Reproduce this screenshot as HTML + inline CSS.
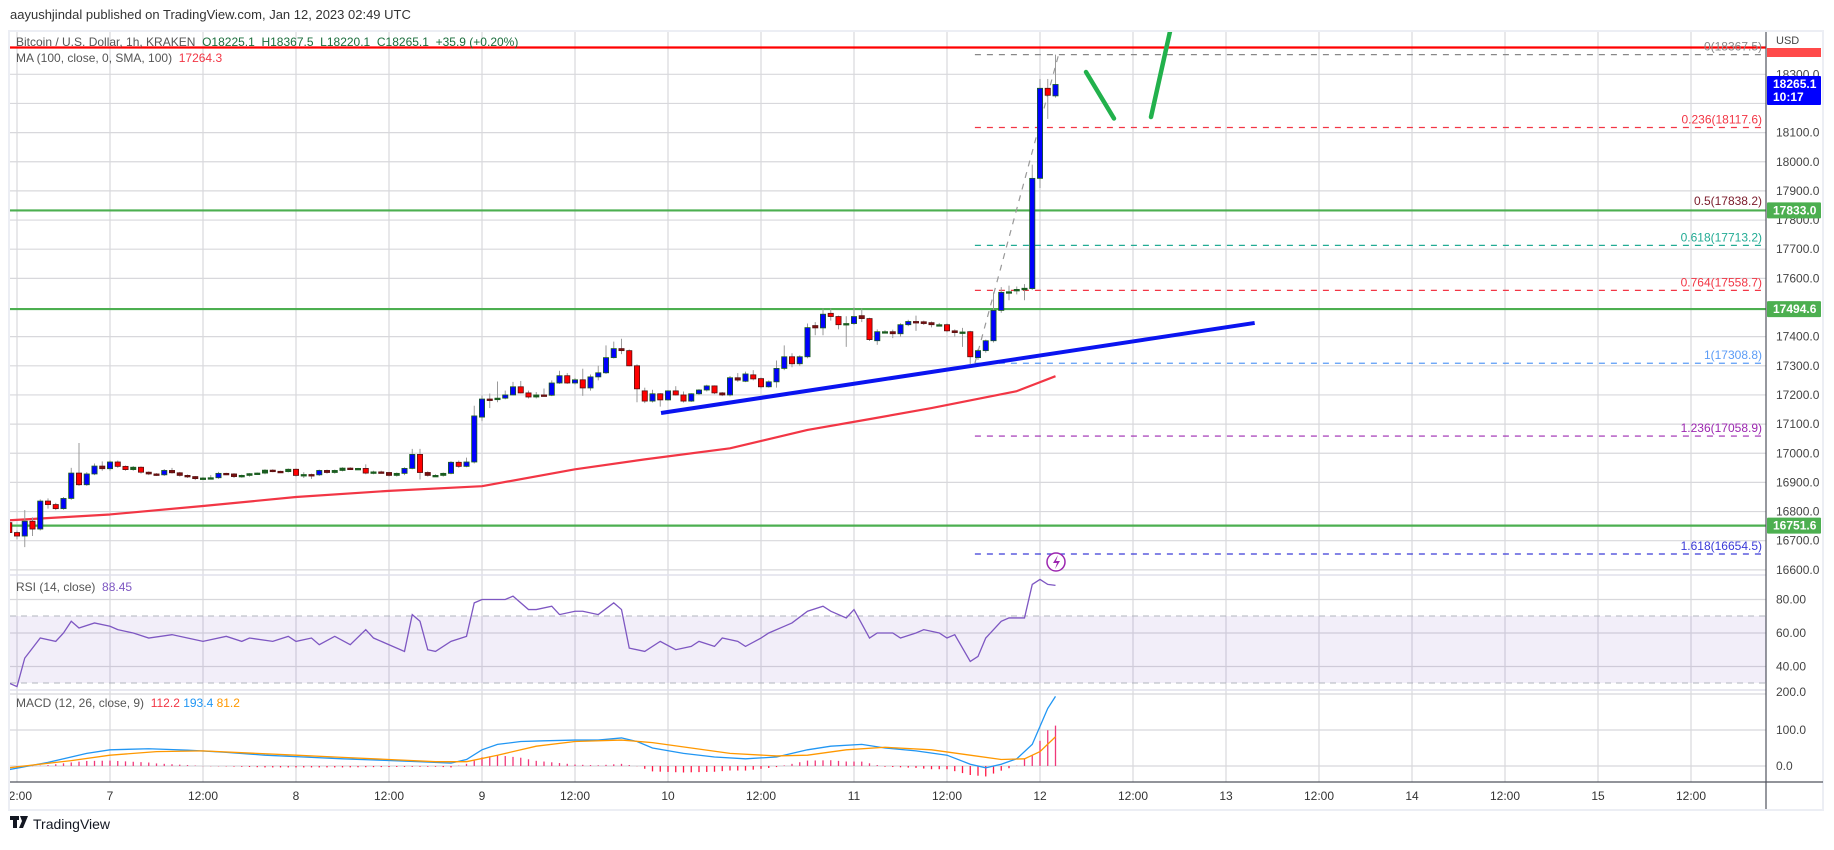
<!DOCTYPE html>
<html><head><meta charset="utf-8"><style>
html,body{margin:0;padding:0;background:#fff;}
svg text{font-family:"Liberation Sans",sans-serif;}
</style></head><body>
<svg id="c" width="1834" height="845" viewBox="0 0 1834 845" xmlns="http://www.w3.org/2000/svg">
<defs>
<clipPath id="pp"><rect x="10" y="32" width="1756" height="543"/></clipPath>
<clipPath id="rp"><rect x="10" y="576" width="1756" height="113"/></clipPath>
<clipPath id="mp"><rect x="10" y="691" width="1756" height="90"/></clipPath>
<clipPath id="ax"><rect x="10" y="782" width="1756" height="27"/></clipPath>
</defs>
<text x="10" y="19" font-size="13" fill="#333">aayushjindal published on TradingView.com, Jan 12, 2023 02:49 UTC</text>
<rect x="9" y="31" width="1814" height="779" fill="#fff" stroke="#eceef4" stroke-width="2"/>
<g id="grid"></g>
<rect x="10" y="616" width="1756" height="67" fill="#7e57c2" fill-opacity="0.1"/>
<line x1="10" x2="1766" y1="616" y2="616" stroke="#b2b5be" stroke-dasharray="6,5"/>
<line x1="10" x2="1766" y1="683" y2="683" stroke="#b2b5be" stroke-dasharray="6,5"/>
<g id="price" clip-path="url(#pp)"></g>
<g id="rsi" clip-path="url(#rp)"></g>
<g id="macd" clip-path="url(#mp)"></g>
<line x1="10" x2="1766" y1="575" y2="575" stroke="#e0e0ec" stroke-width="1.5"/>
<line x1="10" x2="1766" y1="690" y2="690" stroke="#e0e0ec" stroke-width="1.5"/>
<line x1="10" x2="1823" y1="782" y2="782" stroke="#50535e" stroke-width="1.2"/>
<line x1="1766" x2="1766" y1="32" y2="809" stroke="#50535e" stroke-width="1.2"/>
<g id="axes"></g>
<text x="16" y="46" font-size="12" fill="#555">Bitcoin / U.S. Dollar, 1h, KRAKEN <tspan fill="#1b6e3c">&#160;O18225.1 &#160;H18367.5 &#160;L18220.1 &#160;C18265.1 &#160;+35.9 (+0.20%)</tspan></text>
<text x="16" y="62" font-size="12" fill="#555">MA (100, close, 0, SMA, 100) <tspan fill="#f23645">&#160;17264.3</tspan></text>
<text x="16" y="591" font-size="12" fill="#555">RSI (14, close) <tspan fill="#7e57c2">&#160;88.45</tspan></text>
<text x="16" y="707" font-size="12" fill="#555">MACD (12, 26, close, 9) <tspan fill="#f23645">&#160;112.2</tspan><tspan fill="#2196f3">&#160;193.4</tspan><tspan fill="#ff9800">&#160;81.2</tspan></text>
<g>
<rect x="10" y="816" width="9" height="4" fill="#131722"/><rect x="13" y="816" width="4" height="12" fill="#131722"/>
<path d="M20 816 h8 l-5 12 h-4 l3-7 z" fill="#131722"/>
<text x="33" y="829" font-size="14" fill="#131722">TradingView</text>
</g>
</svg>
<script>
// ---- data ----
const firstHour = -13;
const opens  = [16762,16728,16716,16767,16740,16836,16824,16810,16845,16932,16892,16929,16956,16947,16970,16955,16944,16952,16935,16929,16926,16941,16933,16924,16920,16913,16915,16916,16931,16929,16920,16924,16930,16932,16942,16938,16937,16945,16924,16927,16926,16941,16934,16941,16949,16948,16948,16932,16936,16934,16924,16931,16948,16996,16934,16924,16924,16931,16969,16955,16970,17124,17186,17185,17189,17200,17228,17207,17193,17200,17199,17241,17266,17241,17252,17224,17262,17276,17328,17359,17352,17300,17214,17179,17204,17183,17214,17200,17179,17204,17217,17231,17207,17200,17259,17247,17269,17256,17228,17245,17291,17331,17307,17331,17438,17430,17480,17469,17445,17445,17472,17462,17386,17417,17417,17410,17441,17452,17451,17448,17441,17441,17420,17416,17417,17328,17352,17386,17490,17552,17558,17562,17565,17943,18252,18226];
const closes = [16728,16716,16767,16740,16836,16824,16810,16845,16932,16892,16929,16956,16947,16970,16955,16944,16952,16935,16929,16926,16941,16933,16924,16920,16913,16915,16916,16931,16929,16920,16924,16930,16932,16942,16938,16937,16945,16924,16927,16926,16941,16934,16941,16949,16948,16948,16932,16936,16934,16924,16931,16948,16996,16934,16924,16924,16931,16969,16955,16970,17128,17186,17185,17189,17200,17228,17207,17193,17200,17199,17241,17266,17241,17252,17224,17262,17276,17328,17359,17352,17300,17221,17179,17204,17183,17214,17200,17179,17204,17217,17231,17207,17200,17259,17251,17272,17255,17228,17245,17291,17331,17307,17331,17431,17430,17477,17469,17441,17445,17469,17462,17390,17417,17417,17410,17441,17452,17451,17445,17441,17441,17420,17414,17416,17331,17352,17386,17490,17552,17554,17562,17566,17943,18252,18228,18265.1];
const highs  = [16770,16735,16805,16780,16842,16845,16830,16850,16950,17035,16935,16965,16972,16975,16975,16958,16956,16955,16938,16932,16946,16950,16936,16927,16922,16918,16925,16936,16933,16932,16927,16932,16934,16945,16945,16940,16948,16948,16935,16930,16944,16944,16944,16952,16952,16950,16962,16940,16940,16936,16934,16952,17015,17015,16938,16928,16934,16973,16975,16985,17163,17198,17205,17246,17215,17245,17248,17215,17210,17222,17250,17283,17275,17258,17290,17270,17300,17370,17383,17393,17356,17305,17225,17218,17206,17216,17230,17212,17206,17220,17235,17233,17210,17265,17275,17280,17285,17260,17250,17318,17370,17343,17336,17445,17450,17497,17497,17472,17470,17500,17497,17465,17425,17422,17424,17446,17458,17472,17455,17452,17447,17445,17425,17430,17420,17358,17390,17552,17570,17575,17572,17580,17990,18284,18284,18367.5];
const lows   = [16720,16705,16678,16716,16735,16810,16805,16806,16840,16888,16888,16925,16940,16940,16950,16940,16940,16930,16925,16922,16922,16930,16920,16915,16908,16910,16912,16912,16925,16915,16916,16920,16928,16928,16935,16934,16934,16920,16915,16912,16922,16930,16930,16938,16945,16945,16928,16928,16930,16920,16920,16925,16945,16910,16920,16920,16920,16928,16950,16952,16965,17110,17155,17175,17185,17198,17205,17188,17188,17195,17196,17238,17238,17236,17197,17215,17250,17272,17325,17340,17298,17175,17172,17174,17160,17180,17198,17174,17176,17200,17212,17203,17196,17195,17245,17244,17250,17222,17225,17225,17285,17295,17300,17326,17405,17405,17455,17425,17365,17440,17450,17385,17372,17412,17395,17400,17436,17420,17440,17432,17436,17415,17400,17365,17305,17320,17345,17380,17482,17525,17545,17525,17560,17910,18147,18220];
const maHours  = [-13,0,12,24,36,48,60,69,80,90,98,106,117,122];
const maValues = [16770,16790,16819,16850,16871,16887,16945,16979,17017,17080,17117,17155,17213,17264.3];
const rsiHours  = [-13,-12,-11,-9,-7,-6,-5,-4,-2,0,1,3,5,8,10,12,15,17,18,21,23,24,26,27,29,31,33,34,36,38,39,40,41,42,44,46,47,48,51,52,54,55,57,58,60,61,63,65,66,67,69,71,73,75,76,78,79,81,82,84,85,87,88,90,92,93,95,96,98,99,101,102,104,105,107,108,109,111,112,113,115,116,118,119,120,121,122];
const rsiValues = [30,28,45,57,55,60,67,63,66,64,62,60,57,59,57,55,58,55,57,55,58,55,57,53,58,53,62,57,53,49,71,67,50,49,55,58,78,80,80,82,74,74,76,71,73,73,71,78,74,51,49,55,50,52,55,52,57,55,52,57,60,64,66,73,76,73,69,74,57,60,60,57,60,62,60,57,59,43,46,57,67,69,69,89,92,89,88.45];
const macdHours   = [-13,-8,-3,0,5,10,15,20,25,30,35,40,44,46,48,50,53,56,60,63,66,68,70,74,78,82,86,90,93,97,100,104,108,111,113,115,117,119,120,121,122];
const macdValues  = [-10,10,35,45,48,44,38,30,25,20,16,12,8,18,45,60,68,70,72,72,78,68,50,35,25,20,25,45,55,60,50,42,30,5,-5,5,20,60,110,160,193.4];
const signalHours = [-13,-5,0,6,12,18,24,30,36,42,46,50,55,60,66,70,75,80,86,90,95,100,106,111,115,118,120,122];
const signalValues= [-5,15,30,40,42,36,30,24,18,12,12,30,55,68,72,65,50,35,28,30,45,52,45,30,18,20,40,81.2];
const fibLabels = ["0","0.236","0.5","0.618","0.764","1","1.236","1.618"];
const fibPrices = [18367.5,18117.6,17838.2,17713.2,17558.7,17308.8,17058.9,16654.5];
const hLinePrices = [17833.0,17494.6,16751.6];
const trendHours = [71.1,147.7];
const trendPrices = [17138,17447];
const priceTicks = [18300,18100,18000,17900,17800,17700,17600,17400,17300,17200,17100,17000,16900,16800,16700,16600];
const rsiTicks = [80,60,40];
const macdTicks = [200,100,0];
const timeHours = [-12,0,12,24,36,48,60,72,84,96,108,120,132,144,156,168,180,192,204];
const timeLabels = ["12:00","7","12:00","8","12:00","9","12:00","10","12:00","11","12:00","12","12:00","13","12:00","14","12:00","15","12:00"];

// ---- scales ----
const xh = h => 110 + h*7.75;
const yp = p => 74.3 + (18300-p)*0.2915;
const yr = r => 633 - (r-60)*1.675;
const ym = m => 766 - m*0.36;
const NS = "http://www.w3.org/2000/svg";
function mk(tag, parent, attrs){const e=document.createElementNS(NS,tag);for(const k in attrs)e.setAttribute(k,attrs[k]);parent.appendChild(e);return e;}
const G = id => document.getElementById(id);
function interp(hs, vs, h){ if(h<=hs[0])return vs[0]; for(let i=1;i<hs.length;i++){ if(h<=hs[i]){const t=(h-hs[i-1])/(hs[i]-hs[i-1]);return vs[i-1]+t*(vs[i]-vs[i-1]);}} return vs[vs.length-1]; }

// grid
const grid = G('grid');
timeHours.forEach(h=>{ const l=mk('line',grid,{x1:xh(h),x2:xh(h),y1:32,y2:782,stroke:'#d8d8dc','stroke-width':1.2});

 });
priceTicks.concat([18200]).forEach(p=>{ const l=mk('line',grid,{x1:10,x2:1766,y1:yp(p),y2:yp(p),stroke:'#d8d8dc','stroke-width':1.2});

 });
rsiTicks.forEach(r=>{ const l=mk('line',grid,{x1:10,x2:1766,y1:yr(r),y2:yr(r),stroke:'#d8d8dc','stroke-width':1.2});

 });
macdTicks.forEach(m=>{ const l=mk('line',grid,{x1:10,x2:1766,y1:ym(m),y2:ym(m),stroke:'#d8d8dc','stroke-width':1.2});

 });

// price pane
const pr = G('price');
const rl = mk('line',pr,{x1:10,x2:1766,y1:47.5,y2:47.5,stroke:'#ff0000','stroke-width':2.2});


hLinePrices.forEach(p=>{ const l=mk('line',pr,{x1:10,x2:1766,y1:yp(p),y2:yp(p),stroke:'#4caf50','stroke-width':2.2});

 });
const fibColors=['#888','#f23645','#7a1a2a','#22ab94','#f23645','#5b9cf6','#9c27b0','#3a3ad8'];
const fibX0 = xh(111.6);
fibPrices.forEach((p,i)=>{
  if(i!==2){ const l=mk('line',pr,{x1:fibX0,x2:1766,y1:yp(p),y2:yp(p),stroke:fibColors[i],'stroke-width':1.2,'stroke-dasharray':'6,6'});
  
   }
  const t=mk('text',pr,{x:1762,y:yp(p)-4,'text-anchor':'end','font-size':12,fill:fibColors[i]});
  t.textContent=fibLabels[i]+'('+p.toFixed(1)+')';
  
  
});
const fd = mk('line',pr,{x1:fibX0,y1:yp(fibPrices[5]),x2:xh(122.4),y2:yp(fibPrices[0]),stroke:'#999','stroke-width':1.2,'stroke-dasharray':'6,6'});


const maPts = maHours.map((h,i)=>xh(h)+','+yp(maValues[i])).join(' ');
const ma = mk('polyline',pr,{points:maPts,fill:'none',stroke:'#f23645','stroke-width':2.2,'stroke-linejoin':'round'});


const tl = mk('line',pr,{x1:xh(trendHours[0]),y1:yp(trendPrices[0]),x2:xh(trendHours[1]),y2:yp(trendPrices[1]),stroke:'#0a14f0','stroke-width':4});


opens.forEach((o,i)=>{
  const c=closes[i], h=firstHour+i, x=xh(h);
  const g=mk('g',pr,{});
  
  
  mk('line',g,{x1:x,x2:x,y1:yp(highs[i]),y2:yp(lows[i]),stroke:'#9a9a9a','stroke-width':1});
  const up=c>=o, top=yp(Math.max(o,c)), bot=yp(Math.min(o,c));
  const hgt=Math.max(bot-top,1.5);
  mk('rect',g,{x:x-2.6,y:top,width:5.2,height:hgt,fill:hgt<3?(up?'#1b5e20':'#7a1010'):(up?'#0000ff':'#ff0000'),stroke:up?'#1b5e20':'#5a1010','stroke-width':0.8});
});
const gd1 = mk('line',pr,{x1:1086,y1:72,x2:1114,y2:118.5,stroke:'#22b14c','stroke-width':4.5,'stroke-linecap':'round'});


const gd2 = mk('line',pr,{x1:1151,y1:117,x2:1173,y2:18,stroke:'#22b14c','stroke-width':4.5,'stroke-linecap':'round'});


const ev = mk('g',pr,{});


mk('circle',ev,{cx:1056,cy:562,r:9,fill:'#fff',stroke:'#9c27b0','stroke-width':1.5});
mk('path',ev,{d:'M1058 555 l-5 8 h4 l-2 6 l5 -8 h-4 z',fill:'#9c27b0'});

const rsiPts = rsiHours.map((h,i)=>xh(h)+','+yr(rsiValues[i])).join(' ');
const rl2 = mk('polyline',G('rsi'),{points:rsiPts,fill:'none',stroke:'#7e57c2','stroke-width':1.3});



const mg = G('macd');
for(let h=firstHour; h<=122; h++){
  const v = interp(macdHours,macdValues,h)-interp(signalHours,signalValues,h);
  const b = mk('line',mg,{x1:xh(h),x2:xh(h),y1:ym(0),y2:ym(v),stroke:v>=0?'#f0387a':'#ff1744','stroke-width':1.3});
  
  
}
const mpl = mk('polyline',mg,{points:macdHours.map((h,i)=>xh(h)+','+ym(macdValues[i])).join(' '),fill:'none',stroke:'#2196f3','stroke-width':1.3});


const spl = mk('polyline',mg,{points:signalHours.map((h,i)=>xh(h)+','+ym(signalValues[i])).join(' '),fill:'none',stroke:'#ff9800','stroke-width':1.3});



const ax = G('axes');
const tg = mk('g',ax,{'clip-path':'url(#ax)'});
timeHours.forEach((h,i)=>{ const t=mk('text',tg,{x:xh(h),y:800,'text-anchor':'middle','font-size':12,fill:'#333'}); t.textContent=timeLabels[i];

 });
priceTicks.forEach(p=>{ const t=mk('text',ax,{x:1776,y:yp(p)+4,'font-size':12,fill:'#444'}); t.textContent=p.toFixed(1);

 });
rsiTicks.forEach(r=>{ const t=mk('text',ax,{x:1776,y:yr(r)+4,'font-size':12,fill:'#444'}); t.textContent=r.toFixed(2);

 });
macdTicks.forEach(m=>{ const t=mk('text',ax,{x:1776,y:ym(m)+(m===200?2:4),'font-size':12,fill:'#444'}); t.textContent=m.toFixed(1);

 });
const usd = mk('text',ax,{x:1776,y:44,'font-size':11,fill:'#444'}); usd.textContent='USD';


mk('rect',ax,{x:1767,y:48,width:54,height:9,fill:'#ff4a4a'});
function tag(y,h,fill,lines,name){
  const g=mk('g',ax,{});
  
  
  mk('rect',g,{x:1767,y:y,width:54,height:h,fill:fill,rx:1});
  lines.forEach((s,k)=>{ const t=mk('text',g,{x:1773,y:y+12+k*13,'font-size':12,'font-weight':'bold',fill:'#fff'}); t.textContent=s; });
}
tag(76,29,'#0000ff',[closes[closes.length-1].toFixed(1),'10:17'],'last-price-tag');
hLinePrices.forEach(p=>tag(yp(p)-8,16,'#4caf50',[p.toFixed(1)],'support-price-tag'));
</script>
</body></html>
